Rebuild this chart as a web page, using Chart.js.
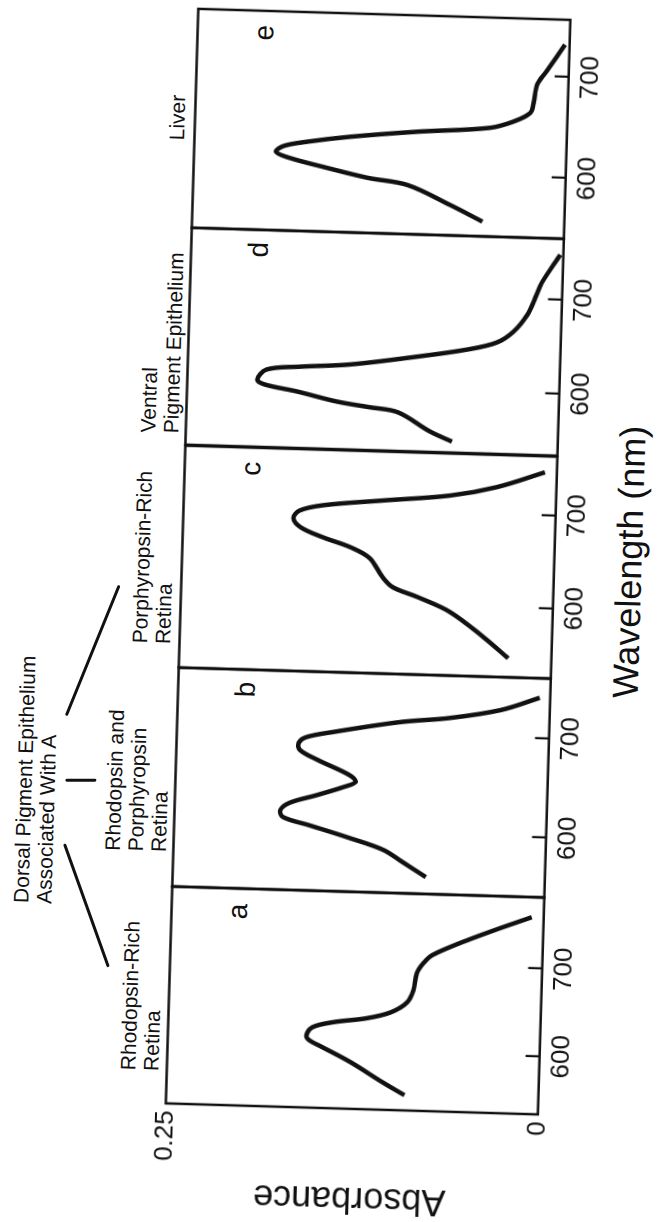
<!DOCTYPE html>
<html>
<head>
<meta charset="utf-8">
<script src="https://cdn.jsdelivr.net/npm/chart.js@4.4.1/dist/chart.umd.min.js"></script>
<style>
html, body { margin:0; padding:0; background:#fff; overflow:hidden; }
body { width:658px; height:1222px; position:relative; }
/* la figure est dessinée à plat puis tournée (scan légèrement de travers) */
#fig { position:absolute; left:-282px; top:282px; width:1222px; height:658px;
       transform-origin:611px 329px; transform:rotate(-88.3deg);
       font-family:"Liberation Sans", Arial, sans-serif; color:#111; }
#fig canvas { position:absolute; top:0; }
.lab { position:absolute; font-size:21px; line-height:23px; white-space:nowrap; }
.let { position:absolute; font-size:28px; line-height:27px; transform:translateX(-50%); }
#wl { position:absolute; left:669px; top:610px; font-size:36px; line-height:36px; white-space:nowrap; transform:translateX(-50%); }
#traits { position:absolute; left:0; top:0; }
</style>
</head>
<body>
<div id="fig">
  <svg id="traits" width="1222" height="658">
    <g stroke="#111" stroke-width="3" stroke-linecap="round">
      <line x1="369" y1="72" x2="250" y2="118.5"/>
      <line x1="434" y1="72" x2="435" y2="100"/>
      <line x1="500" y1="70" x2="629" y2="118"/>
    </g>
  </svg>
  <div class="lab" style="left:310px;top:18px">Dorsal Pigment Epithelium<br>Associated With A</div>
  <div class="lab" style="left:146px;top:130px">Rhodopsin-Rich<br>Retina</div>
  <div class="lab" style="left:365px;top:108px">Rhodopsin and<br>Porphyropsin<br>Retina</div>
  <div class="lab" style="left:573px;top:129px">Porphyropsin-Rich<br>Retina</div>
  <div class="lab" style="left:784px;top:131px">Ventral<br>Pigment Epithelium</div>
  <div class="lab" style="left:1077px;top:151px">Liver</div>
  <div class="let" style="left:308px;top:233px">a</div>
  <div class="let" style="left:530px;top:234px">b</div>
  <div class="let" style="left:751px;top:233px">c</div>
  <div class="let" style="left:970px;top:234px">d</div>
  <div class="let" style="left:1187px;top:233px">e</div>
  <div id="wl">Wavelength (nm)</div>
</div>
<script>
// donnees : longueur d'onde (nm) / absorbance

const wlA = [551, 565, 587, 603, 610.5, 616, 625.5, 632, 637.5, 645, 657, 671, 691, 702, 712, 730, 745, 758.5];
const absA = [0.090, 0.105, 0.127, 0.146, 0.155, 0.157, 0.153, 0.139, 0.117, 0.101, 0.090, 0.086, 0.084, 0.080, 0.074, 0.051, 0.029, 0.008];

const wlB = [557, 571.5, 583, 594, 605.5, 613, 620, 627.5, 636, 645, 650.5, 657, 671.5, 681, 688, 694, 700, 712, 717.5, 727, 740.5];
const absB = [0.080, 0.096, 0.109, 0.132, 0.159, 0.177, 0.179, 0.173, 0.155, 0.137, 0.129, 0.133, 0.155, 0.167, 0.168, 0.163, 0.145, 0.100, 0.067, 0.033, 0.007];

const wlC = [544.5, 566.5, 592.5, 607.5, 617.5, 628, 648, 659, 669, 679, 688.5, 697, 703.5, 710.5, 718, 728.5, 746];
const absC = [0.029, 0.046, 0.069, 0.091, 0.108, 0.115, 0.124, 0.137, 0.156, 0.171, 0.176, 0.172, 0.156, 0.116, 0.071, 0.040, 0.008];

const wlD = [545.5, 555.5, 575, 579.5, 584.5, 594, 600.5, 605.5, 616.5, 620.5, 624.5, 635, 644, 652.5, 664.5, 683, 701.5, 717.5, 748];
const absD = [0.071, 0.086, 0.108, 0.127, 0.149, 0.176, 0.198, 0.203, 0.197, 0.175, 0.141, 0.096, 0.063, 0.043, 0.032, 0.023, 0.018, 0.014, 0.002];

const wlE = [554.5, 570, 588.5, 594.5, 604, 612, 617.5, 623.5, 628.5, 634.5, 641.5, 647.5, 654.5, 663.5, 673.5, 691.5, 705, 732];
const absE = [0.055, 0.077, 0.106, 0.133, 0.163, 0.186, 0.195, 0.190, 0.174, 0.146, 0.101, 0.052, 0.036, 0.025, 0.023, 0.021, 0.015, 0.003];

// bornes de l'axe des longueurs d'onde, panneau par panneau
const wlMin = [533.5, 540, 524, 533.8, 539.9];
const wlMax = [781.5, 760.1, 763.2, 765.2, 756.7];

const wlTicks = [600, 700];
const absTicks = [0, 0.25];
const absTickLabels = ['0', '0.25'];

// mise en page (px, figure a plat)
const bords = [114, 331, 550, 772.5, 990, 1209];
const hautCadre = 180.5;
const basCadre = 552.7;
const hauteur = 658;

Chart.defaults.font.family = '"Liberation Sans", Arial, sans-serif';
Chart.defaults.color = '#111';

const cadre = {
    id: 'cadre',
    afterDraw(chart) {
        const a = chart.chartArea, ctx = chart.ctx;
        ctx.save();
        ctx.strokeStyle = '#111';
        ctx.lineWidth = 2.5;
        ctx.strokeRect(a.left, a.top, a.right - a.left, a.bottom - a.top);
        ctx.restore();
    }
};

const series = [[wlA, absA], [wlB, absB], [wlC, absC], [wlD, absD], [wlE, absE]];
const fig = document.getElementById('fig');

for (let i = 0; i < series.length; i++) {
    const premier = (i == 0);
    const gauche = premier ? 0 : bords[i] - 3;
    const droite = bords[i + 1] + 3;

    const cv = document.createElement('canvas');
    cv.width = droite - gauche;
    cv.height = hauteur;
    cv.style.left = gauche + 'px';
    fig.appendChild(cv);

    const wl = series[i][0], ab = series[i][1];
    const points = wl.map((w, k) => ({x: w, y: ab[k]}));

    new Chart(cv, {
        type: 'scatter',
        data: {
            datasets: [{
                data: points,
                showLine: true,
                borderColor: '#111',
                borderWidth: 4.5,
                pointRadius: 0,
                tension: 0.35,
                fill: false
            }]
        },
        options: {
            responsive: false,
            animation: false,
            layout: {padding: {top: hautCadre, left: premier ? 0 : 3, right: 3, bottom: 0}},
            plugins: {legend: {display: false}, tooltip: {enabled: false}},
            scales: {
                x: {
                    type: 'linear',
                    position: 'bottom',
                    min: wlMin[i],
                    max: wlMax[i],
                    afterBuildTicks: s => { s.ticks = wlTicks.map(v => ({value: v})); },
                    afterFit: s => { s.height = hauteur - basCadre; },
                    border: {display: false},
                    grid: {drawOnChartArea: false, drawTicks: true, tickLength: -14, lineWidth: 2.2, color: '#111'},
                    ticks: {font: {size: 26}, color: '#111', padding: 21, maxRotation: 0, minRotation: 0, autoSkip: false}
                },
                y: {
                    type: 'linear',
                    min: 0,
                    max: 0.25,
                    display: premier,
                    afterBuildTicks: s => { s.ticks = absTicks.map(v => ({value: v})); },
                    afterFit: s => { s.width = premier ? bords[0] : 0; },
                    border: {display: false},
                    grid: {display: false, drawTicks: false},
                    ticks: {
                        font: {size: 26}, color: '#111', padding: 7,
                        callback: (v, k) => absTickLabels[k]
                    },
                    title: {display: true, text: 'Absorbance', font: {size: 36}, color: '#111', padding: {top: 3, bottom: 0}}
                }
            }
        },
        plugins: [cadre]
    });
}
</script>
</body>
</html>
